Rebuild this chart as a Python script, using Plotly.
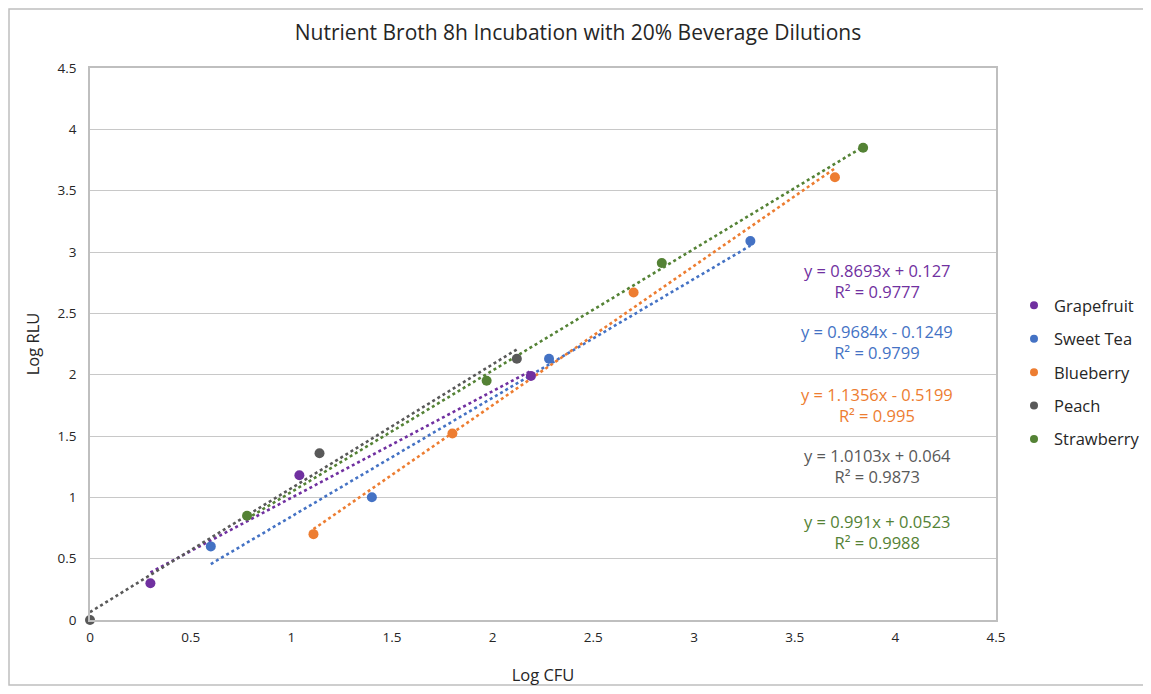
import plotly.graph_objects as go

series_names = ["Grapefruit", "Sweet Tea", "Blueberry", "Peach", "Strawberry"]
colors = ["#7030A0", "#4472C4", "#ED7D31", "#595959", "#548235"]

grapefruit_x = [0.30, 1.04, 2.19]
grapefruit_y = [0.30, 1.18, 1.99]
sweettea_x = [0.60, 1.40, 2.28, 3.28]
sweettea_y = [0.60, 1.00, 2.13, 3.09]
blueberry_x = [1.11, 1.80, 2.70, 3.70]
blueberry_y = [0.70, 1.52, 2.67, 3.61]
peach_x = [0.00, 1.14, 2.12]
peach_y = [0.00, 1.36, 2.13]
strawberry_x = [0.78, 1.97, 2.84, 3.84]
strawberry_y = [0.85, 1.95, 2.91, 3.85]

slopes = [0.8693, 0.9684, 1.1356, 1.0103, 0.991]
intercepts = [0.127, -0.1249, -0.5199, 0.064, 0.0523]
r2_values = ["0.9777", "0.9799", "0.995", "0.9873", "0.9988"]
eq_labels = ["y = 0.8693x + 0.127", "y = 0.9684x - 0.1249", "y = 1.1356x - 0.5199",
             "y = 1.0103x + 0.064", "y = 0.991x + 0.0523"]

xs = [grapefruit_x, sweettea_x, blueberry_x, peach_x, strawberry_x]
ys = [grapefruit_y, sweettea_y, blueberry_y, peach_y, strawberry_y]

tick_vals = [0, 0.5, 1, 1.5, 2, 2.5, 3, 3.5, 4, 4.5]
tick_text = ["0", "0.5", "1", "1.5", "2", "2.5", "3", "3.5", "4", "4.5"]

# page layout (page has 8px body margin)
OFF = 8
W, H = 1151 - OFF, 694 - 2 * OFF
PX0, PX1, PY0, PY1 = 90, 996, 68, 620  # plot area in page pixels
L, T = PX0 - OFF, PY0 - OFF
R, B = W - (PX1 - OFF), H - (PY1 - OFF)
pw, ph = PX1 - PX0, PY1 - PY0

def px(xp):
    return (xp - PX0) / pw

def py(yp):
    return (PY1 - yp) / ph

FONT = "Open Sans"
TXT = "#262626"

fig = go.Figure()

# trendlines
for i in range(5):
    x0, x1 = min(xs[i]), max(xs[i])
    fig.add_trace(go.Scatter(
        x=[x0, x1], y=[slopes[i] * x0 + intercepts[i], slopes[i] * x1 + intercepts[i]],
        mode="lines", line=dict(color=colors[i], width=2.6, dash="dot"),
        showlegend=False, hoverinfo="skip"))

# markers
for i in range(5):
    fig.add_trace(go.Scatter(
        x=xs[i], y=ys[i], mode="markers", name=series_names[i],
        marker=dict(color=colors[i], size=10), showlegend=False, cliponaxis=False))

# legend entries
for i in range(5):
    fig.add_trace(go.Scatter(
        x=[None], y=[None], mode="markers", name=series_names[i],
        legendgroup=series_names[i],
        marker=dict(color=colors[i], size=8), showlegend=True))

# equation annotations
ann_y_px = [281, 342, 404.5, 466, 531.5]
annotations = []
for i in range(5):
    annotations.append(dict(
        x=px(877), y=py(ann_y_px[i]), xref="paper", yref="paper",
        text=f"{eq_labels[i]}<br>R² = {r2_values[i]}", showarrow=False,
        font=dict(family=FONT, size=16.5, color=colors[i]), align="center",
        xanchor="center", yanchor="middle"))

fig.update_layout(
    width=W, height=H,
    margin=dict(l=L, r=R, t=T, b=B, autoexpand=False),
    paper_bgcolor="white", plot_bgcolor="white",
    title=dict(text="Nutrient Broth 8h Incubation with 20% Beverage Dilutions",
               x=(578 - OFF) / W, xanchor="center", y=1 - (33 - OFF) / H, yanchor="middle",
               font=dict(family=FONT, size=21, color=TXT)),
    font=dict(family=FONT, color=TXT),
    legend=dict(x=px(1014), y=py(288), xanchor="left", yanchor="top",
                font=dict(size=16.5, color=TXT), itemsizing="trace",
                tracegroupgap=9, bgcolor="rgba(0,0,0,0)"),
    annotations=annotations,
    shapes=[dict(type="rect", xref="paper", yref="paper",
                 x0=px(9), x1=px(1149),
                 y0=py(685), y1=py(9),
                 line=dict(color="#BFBFBF", width=1.5), fillcolor="rgba(0,0,0,0)", layer="below")],
)

fig.update_xaxes(range=[0, 4.5], tickvals=tick_vals, ticktext=tick_text, showgrid=False,
                 showline=True, linecolor="#BFBFBF", linewidth=1.5, mirror=True,
                 zeroline=False, ticks="", tickfont=dict(size=13.5, color=TXT),
                 ticklabelstandoff=4,
                 title=dict(text="Log CFU", font=dict(size=16.5, color=TXT), standoff=25))
fig.update_yaxes(range=[0, 4.5], tickvals=tick_vals, ticktext=tick_text, showgrid=True,
                 gridcolor="#C8C8C8", gridwidth=1.2,
                 showline=True, linecolor="#BFBFBF", linewidth=1.5, mirror=True,
                 zeroline=False, ticks="", tickfont=dict(size=13.5, color=TXT),
                 ticklabelstandoff=9,
                 title=dict(text="Log RLU", font=dict(size=16.5, color=TXT), standoff=14))

fig.write_html("out.html")
